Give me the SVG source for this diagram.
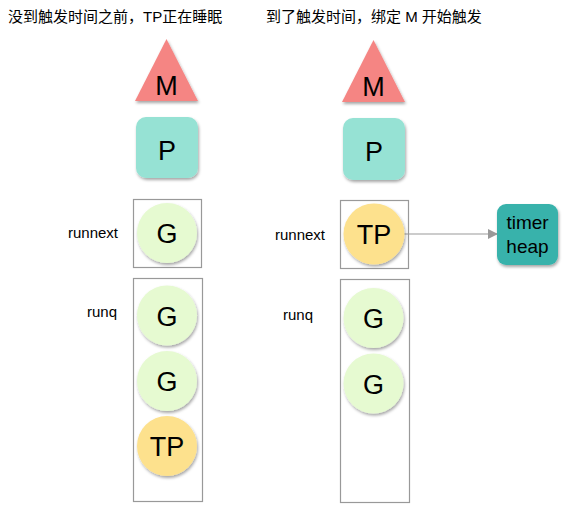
<svg xmlns="http://www.w3.org/2000/svg" width="570" height="520" viewBox="0 0 570 520">
<style>
text{font-family:"Liberation Sans","Noto Sans CJK SC",sans-serif;fill:#000}
.title{font-size:15px}
.lbl{font-size:15px}
.big{font-size:27px;text-anchor:middle}
.box{fill:none;stroke:#999;stroke-width:1.2}
.m{fill:#F58583}
.p{fill:#96E2D4}
.g{fill:#E6FAD1}
.tp{fill:#FDE18D}
.th{fill:#37B2AB}
</style>
<defs>
<filter id="sh" x="-20%" y="-20%" width="150%" height="150%">
<feDropShadow dx="1" dy="2" stdDeviation="1.5" flood-color="#000" flood-opacity="0.35"/>
</filter>
<marker id="arr" markerWidth="10" markerHeight="10" refX="9" refY="5" orient="auto" markerUnits="userSpaceOnUse">
<path d="M0,0 L10,5 L0,10 Z" fill="#999"/>
</marker>
</defs>
<text class="title" x="8" y="22">没到触发时间之前，TP正在睡眠</text>
<text class="title" x="266" y="22">到了触发时间，绑定 M 开始触发</text>
<text class="lbl" x="68" y="238">runnext</text>
<text class="lbl" x="87" y="317">runq</text>
<text class="lbl" x="275" y="240">runnext</text>
<text class="lbl" x="283" y="320">runq</text>
<rect class="box" x="133.5" y="199.5" width="68" height="68"/>
<rect class="box" x="133.5" y="278.5" width="69" height="223"/>
<rect class="box" x="340.5" y="200.5" width="68" height="68"/>
<rect class="box" x="340.5" y="279.5" width="69" height="223"/>
<g id="connectors">
<line x1="395" y1="234" x2="497" y2="234" stroke="#999" stroke-width="1.2" marker-end="url(#arr)"/>
</g>
<g id="m1"><polygon class="m" points="166.5,39 135,101 198,101" filter="url(#sh)"/><text class="big" x="166.5" y="95">M</text></g>
<g id="p1"><rect class="p" x="136" y="117" width="62" height="61" rx="10" filter="url(#sh)"/><text class="big" x="167" y="160">P</text></g>
<g id="g1"><circle class="g" cx="167" cy="233" r="30" filter="url(#sh)"/><text class="big" x="167" y="243">G</text></g>
<g id="g2"><circle class="g" cx="167" cy="315.5" r="30" filter="url(#sh)"/><text class="big" x="167" y="325.5">G</text></g>
<g id="g3"><circle class="g" cx="167" cy="381" r="30" filter="url(#sh)"/><text class="big" x="167" y="391">G</text></g>
<g id="tp1"><circle class="tp" cx="167" cy="446" r="30" filter="url(#sh)"/><text class="big" x="167" y="456">TP</text></g>
<g id="m2"><polygon class="m" points="373.5,40 342,102 405,102" filter="url(#sh)"/><text class="big" x="373.5" y="96">M</text></g>
<g id="p2"><rect class="p" x="343" y="118" width="62" height="62" rx="10" filter="url(#sh)"/><text class="big" x="374" y="161">P</text></g>
<g id="tp2"><circle class="tp" cx="374" cy="234" r="30.5" filter="url(#sh)"/><text class="big" x="374" y="244">TP</text></g>
<g id="g4"><circle class="g" cx="373.5" cy="318" r="30" filter="url(#sh)"/><text class="big" x="373.5" y="328">G</text></g>
<g id="g5"><circle class="g" cx="373.5" cy="383.5" r="30" filter="url(#sh)"/><text class="big" x="373.5" y="393.5">G</text></g>
<g id="timerheap"><rect class="th" x="497" y="204" width="61" height="61" rx="9" filter="url(#sh)"/><text x="527.5" y="229" font-size="19" text-anchor="middle">timer</text><text x="527.5" y="253" font-size="19" text-anchor="middle">heap</text></g>
</svg>
